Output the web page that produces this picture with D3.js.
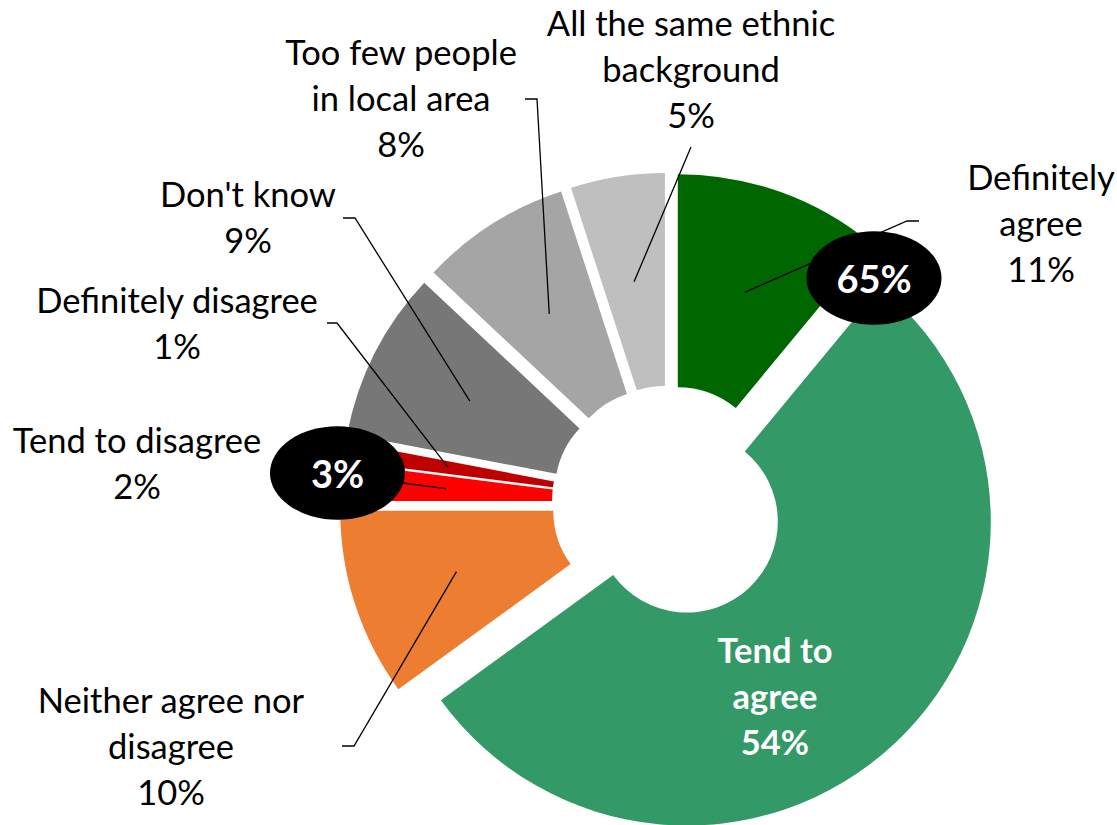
<!DOCTYPE html>
<html>
<head>
<meta charset="utf-8">
<script src="https://cdn.jsdelivr.net/npm/d3@7"></script>
<style>
  body { margin: 0; background: #fff; }
  svg { display: block; }
  text { font-family: Lato, "Noto Sans", sans-serif; }
</style>
</head>
<body>
<svg id="chart" width="1117" height="825"></svg>
<script>
// Survey responses, in drawing order (clockwise from 12 o'clock)
const categories = [
  "Definitely agree",
  "Tend to agree",
  "Neither agree nor disagree",
  "Tend to disagree",
  "Definitely disagree",
  "Don't know",
  "Too few people in local area",
  "All the same ethnic background"
];
const values = [11, 54, 10, 2, 1, 9, 8, 5];
const colors = ["#006600", "#339966", "#ED7D31", "#FF0000", "#C00000", "#777777", "#A5A5A5", "#BFBFBF"];
// How each category name wraps in its label
const labelLines = [
  ["Definitely", "agree"],
  ["Tend to", "agree"],
  ["Neither agree nor", "disagree"],
  ["Tend to disagree"],
  ["Definitely disagree"],
  ["Don't know"],
  ["Too few people", "in local area"],
  ["All the same ethnic", "background"]
];
// Net groups shown in the black badges
const agreeGroup = [0, 1];
const disagreeGroup = [3, 4];

const svg = d3.select("#chart");
const cx = 669, cy = 502.6;
const rInner = 91, rOuter = 304;
const explode = 26;
const lineH = 46;
const fontSize = 34.5;

const pie = d3.pie().value(d => d).sort(null).startAngle(0).endAngle(2 * Math.PI);
const arcs = pie(values);
const arc = d3.arc().innerRadius(rInner).outerRadius(rOuter);

// Each slice is pushed outward along its bisector
const shift = a => {
  const m = (a.startAngle + a.endAngle) / 2;
  return [explode * Math.sin(m), -explode * Math.cos(m)];
};

const g = svg.append("g").attr("transform", `translate(${cx},${cy})`);

g.selectAll("path.slice")
  .data(arcs)
  .join("path")
  .attr("class", "slice")
  .attr("d", arc)
  .attr("fill", (d, i) => colors[i])
  .attr("transform", d => { const [dx, dy] = shift(d); return `translate(${dx},${dy})`; });

// Label placement around the ring (page positions)
const labelLayout = [
  { x: 1041, y: 190, leader: [[907, 221], [919, 221]] },
  { x: 775, y: 663, inside: true },
  { x: 171, y: 713, leader: [[354, 746], [342, 746]] },
  { x: 137, y: 453, leader: [[403, 483], [385, 481]] },
  { x: 177, y: 313, leader: [[337, 323], [327, 323]] },
  { x: 248, y: 207, leader: [[355, 218], [343, 218]] },
  { x: 401, y: 65, leader: [[537, 99], [525, 99]] },
  { x: 691, y: 36, leader: [[691, 147]] }
];

// Leader lines from each slice's centroid
const leaders = svg.append("g");
arcs.forEach((a, i) => {
  const L = labelLayout[i];
  if (!L.leader) return;
  const [dx, dy] = shift(a);
  const c = arc.centroid(a);
  const pts = [[cx + c[0] + dx, cy + c[1] + dy], ...L.leader];
  leaders.append("path")
    .attr("d", d3.line()(pts))
    .attr("fill", "none")
    .attr("stroke", "#000")
    .attr("stroke-width", 1.3);
});

// Net badges
const badges = [
  { idx: agreeGroup, x: 874, y: 278 },
  { idx: disagreeGroup, x: 337.5, y: 473 }
];
badges.forEach(b => {
  const total = d3.sum(b.idx, i => values[i]);
  svg.append("ellipse")
    .attr("cx", b.x).attr("cy", b.y)
    .attr("rx", 67.5).attr("ry", 46.7)
    .attr("fill", "#000");
  svg.append("text")
    .attr("x", b.x).attr("y", b.y + 14.5)
    .attr("text-anchor", "middle")
    .attr("fill", "#fff")
    .attr("font-weight", 700)
    .attr("font-size", 38)
    .text(total + "%");
});

// Category labels
arcs.forEach((a, i) => {
  const L = labelLayout[i];
  const lines = labelLines[i].concat([values[i] + "%"]);
  const t = svg.append("text")
    .attr("text-anchor", "middle")
    .attr("font-size", fontSize)
    .attr("font-weight", L.inside ? 700 : 400)
    .attr("fill", L.inside ? "#fff" : "#000");
  lines.forEach((s, k) => {
    t.append("tspan").attr("x", L.x).attr("y", L.y + k * lineH).text(s);
  });
});
</script>
</body>
</html>
